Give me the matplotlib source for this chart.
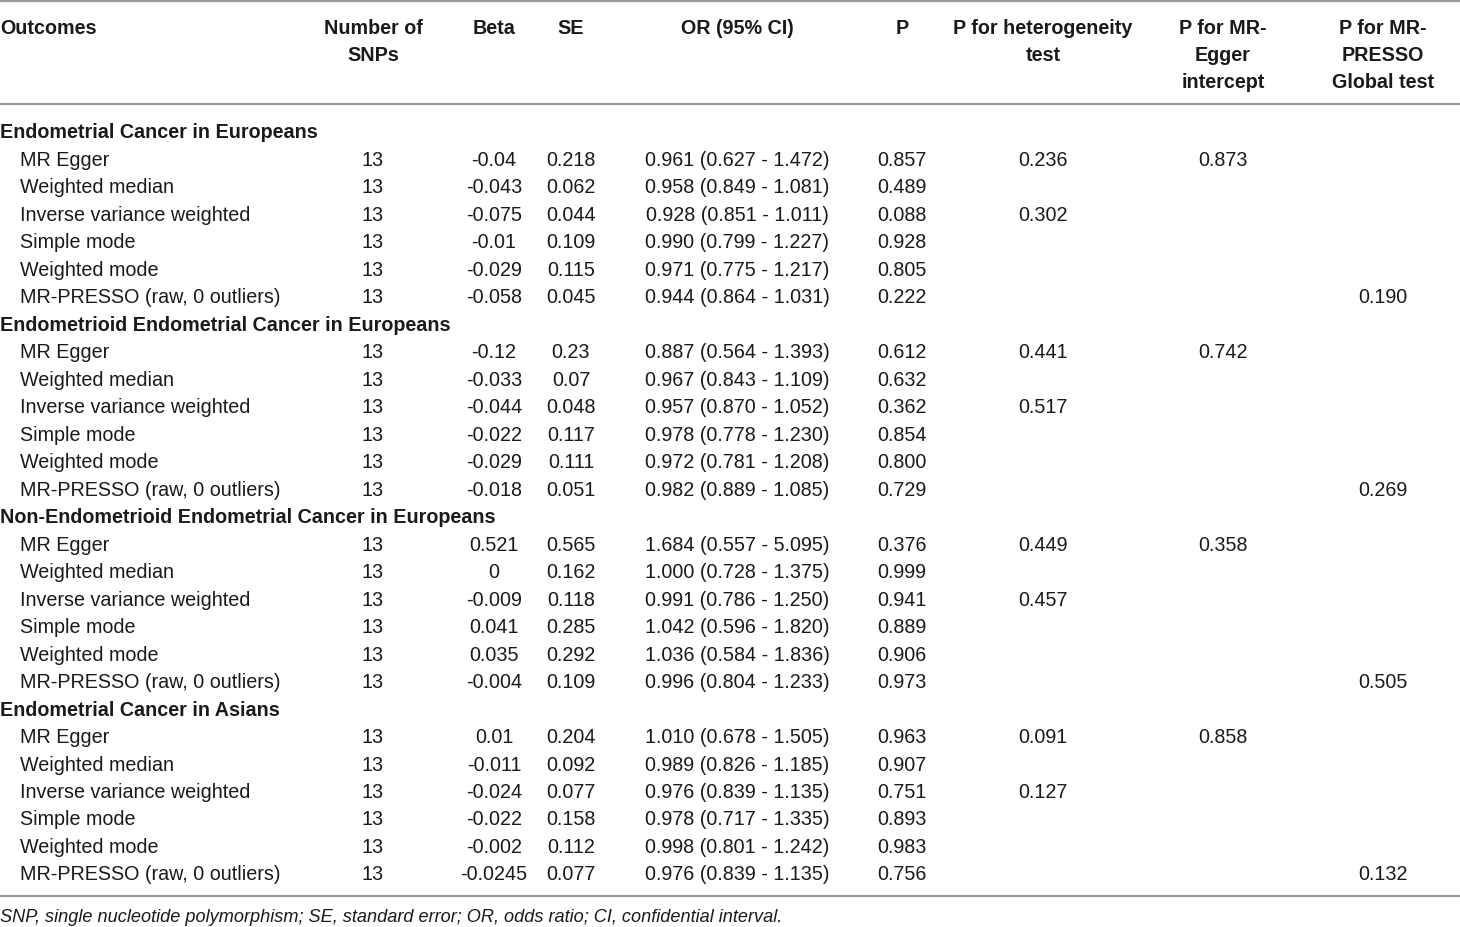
import matplotlib
matplotlib.use("Agg")
import matplotlib.pyplot as plt

plt.rcParams['font.family'] = ['Liberation Sans', 'DejaVu Sans']

#####################################################################
# Table data

headers = ["Outcomes", "Number of\nSNPs", "Beta", "SE", "OR (95% CI)", "P",
           "P for heterogeneity\ntest", "P for MR-\nEgger\nintercept",
           "P for MR-\nPRESSO\nGlobal test"]

groups = ["Endometrial Cancer in Europeans",
          "Endometrioid Endometrial Cancer in Europeans",
          "Non-Endometrioid Endometrial Cancer in Europeans",
          "Endometrial Cancer in Asians"]

methods = ["MR Egger", "Weighted median", "Inverse variance weighted",
           "Simple mode", "Weighted mode", "MR-PRESSO (raw, 0 outliers)"]

n_snps = ["13"] * 24

beta = ["-0.04", "-0.043", "-0.075", "-0.01", "-0.029", "-0.058",
        "-0.12", "-0.033", "-0.044", "-0.022", "-0.029", "-0.018",
        "0.521", "0", "-0.009", "0.041", "0.035", "-0.004",
        "0.01", "-0.011", "-0.024", "-0.022", "-0.002", "-0.0245"]

se = ["0.218", "0.062", "0.044", "0.109", "0.115", "0.045",
      "0.23", "0.07", "0.048", "0.117", "0.111", "0.051",
      "0.565", "0.162", "0.118", "0.285", "0.292", "0.109",
      "0.204", "0.092", "0.077", "0.158", "0.112", "0.077"]

odds = ["0.961 (0.627 - 1.472)", "0.958 (0.849 - 1.081)", "0.928 (0.851 - 1.011)",
        "0.990 (0.799 - 1.227)", "0.971 (0.775 - 1.217)", "0.944 (0.864 - 1.031)",
        "0.887 (0.564 - 1.393)", "0.967 (0.843 - 1.109)", "0.957 (0.870 - 1.052)",
        "0.978 (0.778 - 1.230)", "0.972 (0.781 - 1.208)", "0.982 (0.889 - 1.085)",
        "1.684 (0.557 - 5.095)", "1.000 (0.728 - 1.375)", "0.991 (0.786 - 1.250)",
        "1.042 (0.596 - 1.820)", "1.036 (0.584 - 1.836)", "0.996 (0.804 - 1.233)",
        "1.010 (0.678 - 1.505)", "0.989 (0.826 - 1.185)", "0.976 (0.839 - 1.135)",
        "0.978 (0.717 - 1.335)", "0.998 (0.801 - 1.242)", "0.976 (0.839 - 1.135)"]

p_val = ["0.857", "0.489", "0.088", "0.928", "0.805", "0.222",
         "0.612", "0.632", "0.362", "0.854", "0.800", "0.729",
         "0.376", "0.999", "0.941", "0.889", "0.906", "0.973",
         "0.963", "0.907", "0.751", "0.893", "0.983", "0.756"]

p_het = ["0.236", "", "0.302", "", "", "",
         "0.441", "", "0.517", "", "", "",
         "0.449", "", "0.457", "", "", "",
         "0.091", "", "0.127", "", "", ""]

p_egger = ["0.873", "", "", "", "", "",
           "0.742", "", "", "", "", "",
           "0.358", "", "", "", "", "",
           "0.858", "", "", "", "", ""]

p_presso = ["", "", "", "", "", "0.190",
            "", "", "", "", "", "0.269",
            "", "", "", "", "", "0.505",
            "", "", "", "", "", "0.132"]

footnote = ("SNP, single nucleotide polymorphism; SE, standard error; "
            "OR, odds ratio; CI, confidential interval.")

#####################################################################
# Layout (pixel coords)

W, H = 1460, 928
col_x = [0, 373, 494, 571, 737, 902, 1043, 1223, 1383]
header_y = 28.5
line_h = 27.2
first_row_y = 133
row_step = 27.48
fs = 14.2
txt_col = "#1a1a1a"
rule_col = "#9a9a9a"

fig = plt.figure(figsize=(W / 100, H / 100), dpi=100)
ax = fig.add_axes([0, 0, 1, 1])
ax.set_xlim(0, W)
ax.set_ylim(H, 0)
ax.axis('off')

# rules
for y in [1.5, 105, 897]:
    ax.plot([0, W], [y, y], color=rule_col, lw=1.6, solid_capstyle='butt')

# header, one text per line
for i, h in enumerate(headers):
    ha = 'left' if i == 0 else 'center'
    for j, part in enumerate(h.split("\n")):
        ax.text(col_x[i], header_y + j * line_h, part, ha=ha, va='center',
                fontsize=fs, fontweight='bold', color=txt_col)

columns = [n_snps, beta, se, odds, p_val, p_het, p_egger, p_presso]

line = 0
for g, grp in enumerate(groups):
    y = first_row_y + line * row_step
    ax.text(0, y, grp, ha='left', va='center', fontsize=fs,
            fontweight='bold', color=txt_col)
    line += 1
    for m, meth in enumerate(methods):
        y = first_row_y + line * row_step
        k = g * len(methods) + m
        ax.text(20, y, meth, ha='left', va='center', fontsize=fs, color=txt_col)
        for c, col in enumerate(columns):
            if col[k]:
                ax.text(col_x[c + 1], y, col[k], ha='center', va='center',
                        fontsize=fs, color=txt_col)
        line += 1

ax.text(0, 918, footnote, ha='left', va='center', fontsize=13.1,
        style='italic', color=txt_col)

fig.savefig("out.png", dpi=100)
